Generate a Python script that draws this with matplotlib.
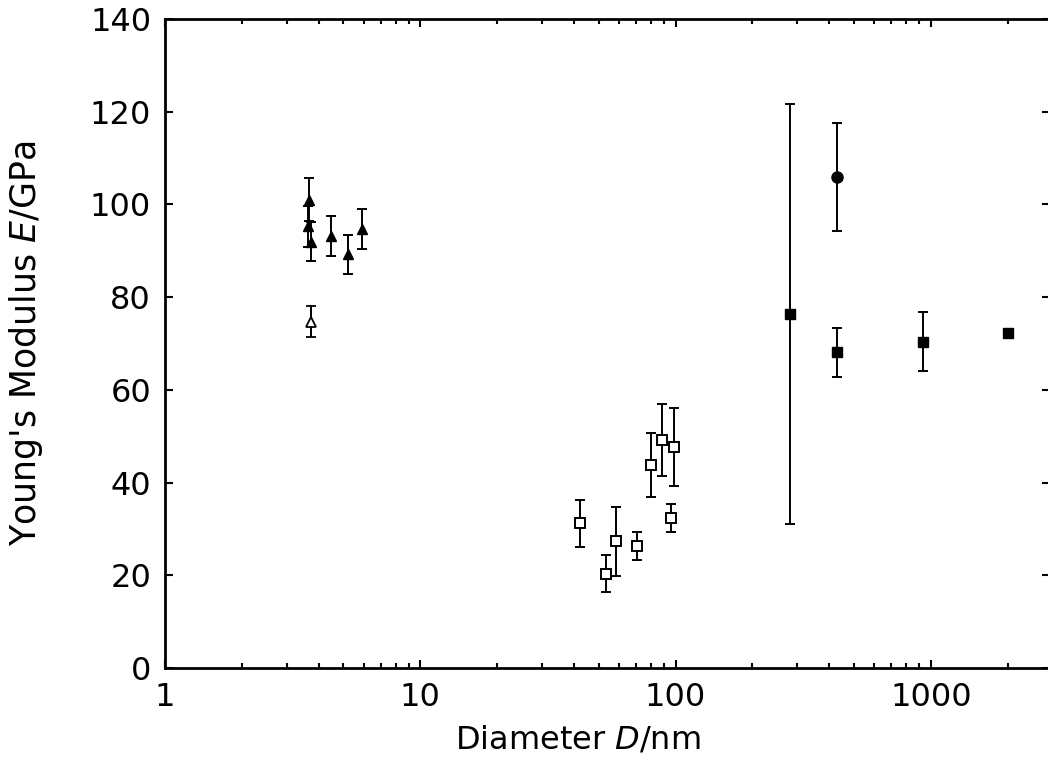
import matplotlib.pyplot as plt
import numpy as np

plt.rcParams['font.family'] = ['DejaVu Sans']
plt.rcParams['mathtext.fontset'] = 'dejavusans'

# filled triangles
tri_d = [3.68, 3.63, 3.74, 4.47, 5.19, 5.92]
tri_e = [101.0, 95.3, 92.0, 93.1, 89.3, 94.7]
tri_err = [4.6, 4.4, 4.2, 4.3, 4.2, 4.4]

# open triangle
otri_d = [3.73]
otri_e = [74.7]
otri_err = [3.4]

# open squares
osq_d = [42.2, 53.5, 58.5, 70.8, 80.5, 88.7, 98.5, 96.2]
osq_e = [31.2, 20.3, 27.3, 26.3, 43.8, 49.2, 47.7, 32.4]
osq_err = [5.0, 4.0, 7.5, 3.0, 7.0, 7.8, 8.4, 3.0]

# filled squares
sq_d = [282, 428, 936, 2010]
sq_e = [76.3, 68.1, 70.4, 72.2]
sq_err = [45.3, 5.3, 6.4, 0.0]

# filled circle
circ_d = [428]
circ_e = [105.9]
circ_err = [11.7]

fig = plt.figure(figsize=(10.48, 7.62), dpi=100)
ax = fig.add_axes([165 / 1048, 1 - 668 / 762, 885 / 1048, 649 / 762])

eb = dict(color='black', ecolor='black', elinewidth=1.4, capsize=3.3,
          capthick=1.4, linestyle='none')
ax.errorbar(tri_d, tri_e, yerr=tri_err, marker='^', ms=7.5,
            mfc='black', mec='black', **eb)
ax.errorbar(otri_d, otri_e, yerr=otri_err, marker='^', ms=7,
            mfc='white', mec='black', mew=1.3, **eb)
ax.errorbar(osq_d, osq_e, yerr=osq_err, marker='s', ms=7.5,
            mfc='white', mec='black', mew=1.4, **eb)
ax.errorbar(sq_d, sq_e, yerr=sq_err, marker='s', ms=7.5,
            mfc='black', mec='black', **eb)
ax.errorbar(circ_d, circ_e, yerr=circ_err, marker='o', ms=8,
            mfc='black', mec='black', **eb)

ax.set_xscale('log')
ax.set_xlim(1, 2930)
ax.set_ylim(0, 140)
ax.set_yticks(np.arange(0, 141, 20))
ax.set_xticks([1, 10, 100, 1000])
ax.set_xticklabels(['1', '10', '100', '1000'])

for s in ax.spines.values():
    s.set_linewidth(2.0)

ax.tick_params(which='both', direction='in', top=True, right=True,
               labelsize=23, width=1.5)
ax.tick_params(which='major', length=6, pad=10)
ax.tick_params(which='minor', length=3.5)

ax.set_xlabel('Diameter $\\mathit{D}$/nm', fontsize=23)
ax.set_ylabel("Young's Modulus $\\mathit{E}$/GPa", fontsize=25)
ax.xaxis.set_label_coords((578 - 165) / 885, -(740 - 668) / 649)
ax.xaxis.label.set_va('center')
ax.yaxis.set_label_coords(-(165 - 26) / 885, 0.5)
ax.yaxis.label.set_va('center')

fig.savefig('out.png', dpi=100)
